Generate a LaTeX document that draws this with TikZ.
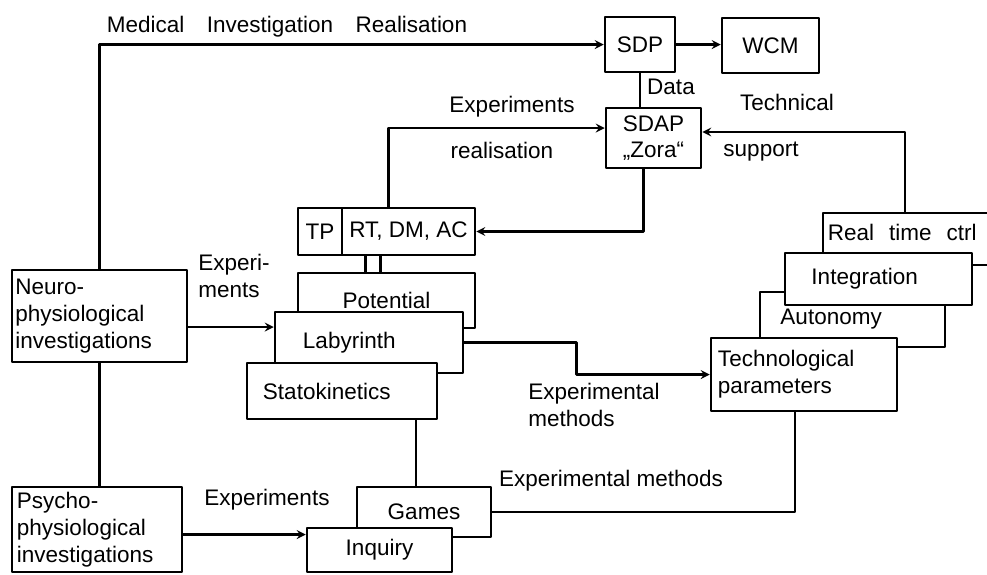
\documentclass[tikz,border=0pt]{standalone}
\usepackage{fontspec}
\setmainfont{Liberation Sans}
\begin{document}
\begin{tikzpicture}[x=0.025cm,y=-0.025cm,line join=round,line cap=round,
	font=\fontsize{16}{19}\selectfont,>=stealth,line width=1.8pt,
	box/.style 2 args={draw,fill=white,inner sep=2pt,
		minimum width=#1*\px,minimum height=#2*\px}]
	\def\px{0.025cm}
	\useasboundingbox (0,0) rectangle (987,574);
	% boxes, back to front
	\node[box={70}{55}] (sdp) at (640,44.5) {SDP};
	\node[box={97}{55}] (wcm) at (770.5,45.5) {WCM};
	\node[box={95}{60},align=center] (sdap) at (653.5,138) {SDAP\\„Zora“};
	\node[box={44}{47}] (tp) at (320,231.5) {TP};
	\node[box={133}{47}] (rt) at (408.5,231.5) {RT, DM, AC};
	\node[box={177}{55}] (pot) at (386.5,300.5) {Potential};
	\node[box={188}{61},align=left,text width=4.5cm] (lab) at (369,342.5) {\hspace{0.6cm}Labyrinth};
	\node[box={190}{56},align=left,text width=4.55cm] (stat) at (342,391) {\hspace{0.3cm}Statokinetics};
	\node[box={175}{92},align=left,text width=4.2cm] (neuro) at (99.5,316)
		{Neuro-\\physiological\\investigations};
	\node[box={170}{85},align=left,text width=4cm] (psycho) at (97,529.5)
		{Psycho-\\physiological\\investigations};
	\node[box={134}{50}] (games) at (424,512) {Games};
	\node[box={145}{44}] (inq) at (379.5,550) {Inquiry};
	\node[box={240}{52},align=left,text width=5.75cm,text depth=0.35cm] (rtc) at (943,239)
		{Real\ \ time\ \ ctrl};
	\node[box={185}{55},align=left,text width=4.4cm] (auto) at (852.5,319.5) {\hspace{0.4cm}Autonomy};
	\node[box={187}{52},align=left,text width=4.45cm] (integ) at (878.5,279) {\hspace{0.55cm}Integration};
	\node[box={186}{73},align=left,text width=4.3cm] (tech) at (804,374.5)
		{Technological\\parameters};
	% labels
	\node (lmed) at (287,27) {Medical\quad Investigation\quad Realisation};
	\node (ldata) at (671,87) {Data};
	\node (ltechn) at (787,102) {Technical};
	\node (lsupp) at (761,152) {support};
	\node (lexpreal) at (512,107) {Experiments};
	\node (lreal) at (502,150) {realisation};
	\node[align=left] (lexperi) at (234,276) {Experi-\\ments};
	\node[align=left] (lmeth) at (594,405) {Experimental\\methods};
	\node (lmethb) at (611,481) {Experimental methods};
	\node (lexpb) at (267,500) {Experiments};
	% connectors
	\path ([xshift=48*\px]rt.north west) coordinate (R)
		([xshift=-10*\px]sdap.south) coordinate (D)
		([xshift=25*\px]rt.south west) coordinate (P1)
		([xshift=40*\px]rt.south west) coordinate (P2)
		([yshift=-11*\px]neuro.east) coordinate (N)
		([xshift=74*\px]stat.south) coordinate (S)
		([xshift=-9*\px]tech.south) coordinate (T)
		([yshift=-5*\px]psycho.east) coordinate (Q)
		([xshift=-38*\px]rtc.north) coordinate (C);
	\draw[->] (neuro.north) |- (sdp.west);
	\draw[->] (sdp.east) -- (sdp.east -| wcm.west);
	\draw (sdp.south) -- (sdp.south |- sdap.north);
	\draw[->] (R) |- ([yshift=10*\px]sdap.west);
	\draw[->] (D) |- (rt.east);
	\draw[->] (C) |- ([yshift=6*\px]sdap.east);
	\draw (P1) -- (P1 |- pot.north) (P2) -- (P2 |- pot.north);
	\draw[->] (N) -- (N -| lab.west);
	\draw[->] (lab.east) -- ++(112,0) |- (tech.west);
	\draw (S) -- (S |- games.north);
	\draw (T) |- (games.east);
	\draw[->] (Q) -- (Q -| inq.west);
	\draw (neuro.south) -- (neuro.south |- psycho.north);
\end{tikzpicture}
\end{document}
